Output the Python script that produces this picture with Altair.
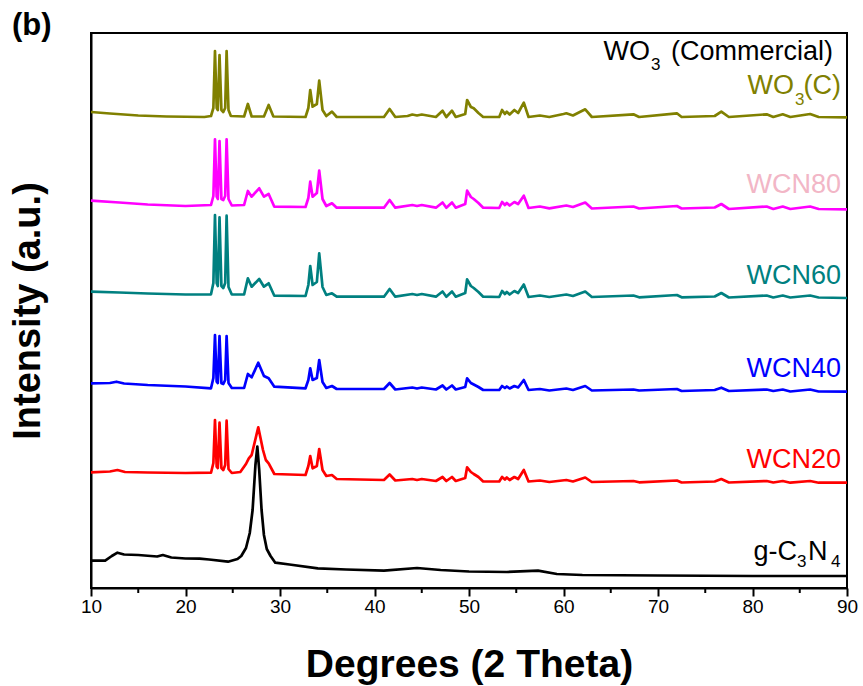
import altair as alt
import pandas as pd

FONT = "Liberation Sans"
NARROW = "Liberation Sans Narrow, Arial Narrow, Liberation Sans, sans-serif"

# ---------------- data ----------------
x_wo3c = [10, 12, 15, 18, 22, 22.7, 22.95, 23.12, 23.3, 23.42, 23.6, 23.8, 24.0, 24.2, 24.35, 24.55, 24.8,
          26.2, 26.6, 27.0, 28.3, 28.8, 29.3, 32.7, 33.0, 33.2, 33.45, 33.9, 34.15, 34.5, 34.9, 35.5, 36.0,
          41.0, 41.6, 42.2, 43.5, 44.0, 44.5, 45.0, 46.5, 47.2, 47.6, 48.2, 48.6, 49.6, 49.8, 50.2, 50.5,
          51.0, 51.5, 53.2, 53.5, 53.8, 54.0, 54.3, 54.8, 55.2, 55.8, 56.3, 57.5, 58.5, 60.0, 60.3, 61.0,
          62.3, 63.0, 67.4, 68.0, 72.0, 72.5, 76.0, 76.7, 77.5, 81.5, 82.2, 83.2, 84, 86.1, 87, 90]
y_wo3c = [476, 474.5, 472.5, 471.5, 471, 472, 480, 537, 480, 478, 533, 478, 476, 480, 537, 478, 472,
          471.5, 484, 471.5, 471.5, 483, 471.5, 471, 480, 498, 481.3, 484, 507.3, 478, 472, 476.3, 471,
          471, 479, 471, 472, 473.5, 472.5, 473.5, 471, 477.3, 471, 477.3, 471, 474, 488, 481, 479.7,
          475, 471, 471, 478, 474, 476.3, 473.5, 478, 475, 485.3, 471, 472.5, 471, 474, 474.7, 472.5,
          478.7, 471, 473.7, 471, 474.7, 471, 472, 476.3, 471, 473.7, 471, 473.7, 471, 474, 471, 470.7]

x_wcn80 = [10, 13, 16, 20, 22.7, 22.95, 23.12, 23.3, 23.42, 23.6, 23.8, 24.0, 24.2, 24.35, 24.55, 24.9,
           26.2, 26.6, 27.0, 27.8, 28.3, 28.8, 29.4, 32.7, 33.0, 33.2, 33.45, 33.9, 34.15, 34.5, 34.9, 35.5,
           36.0, 41.0, 41.6, 42.2, 44.0, 44.5, 45.0, 46.5, 47.2, 47.6, 48.2, 48.6, 49.6, 49.8, 50.2, 50.5,
           51.0, 51.5, 53.2, 53.5, 53.8, 54.0, 54.3, 54.8, 55.2, 55.8, 56.3, 57.5, 58.5, 60.3, 61.0, 62.3,
           63.0, 67.4, 68.0, 72.0, 72.5, 76.0, 76.7, 77.5, 81.5, 82.2, 83.2, 84, 86.1, 87, 90]
y_wcn80 = [387.3, 385.5, 383.5, 382, 383, 392, 448.7, 391.3, 389, 447, 389, 388, 392, 448.7, 389, 382.5,
           383, 397, 391.3, 399.7, 391.3, 394, 381.3, 381, 390, 406.3, 391.3, 395, 417.3, 389, 382, 384.7,
           380.3, 380.3, 388, 380.3, 383, 382, 383, 380.3, 385.5, 380.3, 385.5, 380.3, 384, 397.3, 391, 389,
           385, 380.3, 380, 386, 383, 385, 382.5, 386, 384, 392.3, 380, 381.5, 379.7, 382.5, 381, 385.5,
           379.5, 381.5, 379.5, 382, 379.5, 380.5, 384, 379, 381.5, 379, 381.5, 379, 381.5, 379, 378.7]

x_wcn60 = [10, 13, 16, 20, 22.7, 22.95, 23.12, 23.3, 23.42, 23.6, 23.8, 24.0, 24.2, 24.35, 24.55, 24.9,
           26.2, 26.6, 27.0, 27.8, 28.3, 28.8, 29.4, 32.7, 33.0, 33.2, 33.45, 33.9, 34.15, 34.5, 34.9, 35.5,
           36.0, 41.0, 41.6, 42.2, 44.0, 44.5, 45.0, 46.5, 47.2, 47.6, 48.2, 48.6, 49.6, 49.8, 50.2, 50.5,
           51.0, 51.5, 53.2, 53.5, 53.8, 54.0, 54.3, 54.8, 55.2, 55.8, 56.3, 57.5, 58.5, 60.3, 61.0, 62.3,
           63.0, 67.4, 68.0, 72.0, 72.5, 76.0, 76.7, 77.5, 81.5, 82.2, 83.2, 84, 86.1, 87, 90]
y_wcn60 = [296.3, 295.5, 294.5, 293.5, 293.7, 305, 373, 304.7, 302, 370.7, 302, 300, 305, 372.3, 301, 293.5,
           293.5, 309.7, 301.3, 309, 301.3, 304.7, 292.3, 292, 303, 322, 303, 306, 334.7, 301, 293, 294.7,
           291.3, 291.3, 299, 291.3, 294, 293, 294, 291.3, 296.5, 291.3, 296.5, 291.3, 295, 308.7, 302, 300,
           296, 291.3, 291, 297, 294, 296, 293.5, 297, 295, 303.5, 291, 292.5, 291, 293.5, 292, 296.5,
           291, 292.5, 290.7, 293, 290.7, 291.5, 295, 290.5, 292.5, 290.5, 292.5, 290.5, 292.5, 290.5, 290]

x_wcn40 = [10, 12, 12.7, 13.5, 16, 20, 22.7, 22.95, 23.12, 23.3, 23.42, 23.6, 23.8, 24.0, 24.2, 24.35, 24.55,
           24.9, 26.2, 26.6, 27.0, 27.7, 28.3, 28.8, 29.4, 32.7, 33.0, 33.2, 33.45, 33.9, 34.15, 34.5, 34.9,
           35.5, 36.0, 41.0, 41.6, 42.2, 44.0, 44.5, 45.0, 46.5, 47.2, 47.6, 48.2, 48.6, 49.6, 49.8, 50.2,
           50.5, 51.0, 51.5, 53.2, 53.5, 53.8, 54.0, 54.3, 54.8, 55.2, 55.8, 56.3, 57.5, 58.5, 60.3, 61.0,
           62.3, 63.0, 67.4, 68.0, 72.0, 72.5, 76.0, 76.7, 77.5, 81.5, 82.2, 83.2, 84, 86.1, 87, 90]
y_wcn40 = [204.7, 205, 206.3, 204.5, 203, 201.5, 199.7, 210, 253, 206.3, 205, 252, 204.7, 204, 208, 252, 205,
           200, 200, 214, 210.7, 225.3, 212, 209.7, 201.3, 199.7, 208, 219.7, 208, 210, 228, 206, 200,
           202, 199, 199, 205, 198.5, 200.5, 199.5, 200.5, 198.5, 202.5, 198.5, 202.5, 198.5, 201, 209.7, 205,
           203.5, 201, 198, 198, 202, 200, 201.5, 199.5, 202, 200.5, 208, 198, 199, 197.5, 199.5, 198,
           202, 197.5, 198.5, 197.5, 199, 197, 198, 200.3, 197, 198.5, 197, 198.5, 196.5, 198.5, 196.5, 196.3]

x_wcn20 = [10, 12, 12.8, 13.6, 16, 20, 22.7, 22.95, 23.12, 23.3, 23.42, 23.6, 23.8, 24.0, 24.2, 24.35, 24.55,
           24.9, 25.8, 26.4, 26.7, 27.0, 27.7, 28.2, 28.5, 28.8, 29.4, 32.7, 33.0, 33.2, 33.45, 33.9, 34.15,
           34.5, 34.9, 35.5, 36.0, 41.0, 41.6, 42.2, 44.0, 44.5, 45.0, 46.5, 47.2, 47.6, 48.2, 48.6, 49.6,
           49.8, 50.2, 50.5, 51.0, 51.5, 53.2, 53.5, 53.8, 54.0, 54.3, 54.8, 55.2, 55.8, 56.3, 57.5, 58.5,
           60.3, 61.0, 62.3, 63.0, 67.4, 68.0, 72.0, 72.5, 76.0, 76.7, 77.5, 81.5, 82.2, 83.2, 84, 86.1, 87, 90]
y_wcn20 = [115.7, 116.5, 118, 116, 115.5, 115, 115.3, 125, 168, 121.3, 120, 165.3, 120, 118, 123, 167.3, 119,
           115, 116, 124, 129.7, 133, 160.7, 138, 128, 124.7, 114, 113, 122, 132, 119.7, 122, 139,
           118, 112, 113, 109, 108, 113.5, 107.5, 109, 108, 109, 107, 111, 107, 111, 107, 110,
           120.7, 116, 114, 111, 106.5, 106.5, 111, 108.5, 110.5, 108, 111, 109, 118, 106.5, 107.5, 106,
           108, 106.5, 110.5, 106, 107, 105.7, 107.5, 105.5, 106.5, 109, 105.5, 107, 105.5, 107, 105.3, 107,
           105.3, 105.3]

x_gcn = [10, 11.5, 12.2, 12.8, 13.5, 15, 17, 17.6, 18.5, 20, 21.5, 22.5, 24.5, 25.5, 25.9, 26.4, 26.8,
         27.1, 27.4, 27.6, 27.8, 28.05, 28.3, 28.6, 29.0, 29.5, 31, 34, 37, 41, 44.5, 47, 50, 54, 57.3,
         59.3, 62, 70, 80, 90]
y_gcn = [27.3, 27.3, 32, 35.3, 33.5, 33, 31.5, 33, 30.5, 29.5, 29.3, 28.5, 26.3, 29, 32, 40, 55,
         78, 123, 141.3, 118, 78, 53, 39, 32, 25.3, 23.5, 19.7, 18.5, 17.3, 20, 18, 16.5, 16, 17.3,
         14, 13, 12.5, 12, 12]

major_ticks = [10, 20, 30, 40, 50, 60, 70, 80, 90]
minor_ticks = [15, 25, 35, 45, 55, 65, 75, 85]

series = [
    ("WO3(C)", x_wo3c, y_wo3c, "#808000"),
    ("WCN80", x_wcn80, y_wcn80, "#ff00ff"),
    ("WCN60", x_wcn60, y_wcn60, "#008080"),
    ("WCN40", x_wcn40, y_wcn40, "#0000ff"),
    ("WCN20", x_wcn20, y_wcn20, "#ff0000"),
    ("g-C3N4", x_gcn, y_gcn, "#000000"),
]

W, H = 756, 555

x_scale = alt.Scale(domain=[10, 90], nice=False, zero=False)
y_scale = alt.Scale(domain=[0, 555], nice=False, zero=False)

xax = alt.Axis(values=major_ticks, title="Degrees (2 Theta)", grid=False,
               domainColor="black", domainWidth=2, tickColor="black", tickWidth=2,
               tickSize=8, labelFont=NARROW, labelFontSize=19, labelColor="black",
               labelPadding=1, titleFont=FONT, titleFontSize=39, titleFontWeight="bold",
               titleColor="black", titlePadding=29, labelFlush=False, format="d")
yax = alt.Axis(title="Intensity (a.u.)", ticks=False, labels=False, grid=False,
               domainColor="black", domainWidth=2, titleFont=FONT, titleFontSize=38,
               titleFontWeight="bold", titleColor="black", titlePadding=44)

layers = []
for name, xs, ys, color in series:
    df = pd.DataFrame({"theta": xs, "intensity": ys, "sample": name})
    layers.append(
        alt.Chart(df).mark_line(color=color, strokeWidth=2.7, strokeJoin="round").encode(
            x=alt.X("theta:Q", scale=x_scale, axis=xax),
            y=alt.Y("intensity:Q", scale=y_scale, axis=yax),
        )
    )

minor = alt.Chart(pd.DataFrame({"theta": minor_ticks})).mark_rule(color="black", strokeWidth=2).encode(
    x=alt.X("theta:Q", scale=x_scale, axis=xax),
    y=alt.value(H), y2=alt.value(H + 5),
)
layers.append(minor)

one = pd.DataFrame({"a": [0]})


def label(txt, color, x, y, size=27, weight="normal", align="right"):
    return alt.Chart(one).mark_text(text=txt, color=color, fontSize=size, font=FONT,
                                    fontWeight=weight, align=align, baseline="alphabetic").encode(
        x=alt.value(x), y=alt.value(y))


layers += [
    # WO3 (Commercial)
    label("WO", "black", 559, 27),
    label("3", "black", 560, 37, size=17, align="left"),
    label("(Commercial)", "black", 742, 27),
    # WO3(C)
    label("WO", "#808000", 703, 61),
    label("3", "#808000", 704, 72, size=17, align="left"),
    label("(C)", "#808000", 750, 61),
    label("WCN80", "#f2b6c6", 750, 160),
    label("WCN60", "#008080", 750, 251),
    label("WCN40", "#0000ff", 750, 344),
    label("WCN20", "#ff0000", 750, 435),
    # g-C3N4
    label("g-C", "black", 706, 527),
    label("3", "black", 706, 534, size=17, align="left"),
    label("N", "black", 717, 527, align="left"),
    label("4", "black", 740, 534, size=17, align="left"),
    label("(b)", "black", -79, 2, size=31, weight="bold", align="left"),
]

chart = alt.layer(*layers).properties(
    width=W, height=H,
    autosize=alt.AutoSizeParams(type="none"),
    padding={"left": 91, "top": 33, "right": 16, "bottom": 98},
    background="white",
).configure_view(stroke="black", strokeWidth=2)

chart.save("out.html", embed_options={"renderer": "svg", "actions": False})
